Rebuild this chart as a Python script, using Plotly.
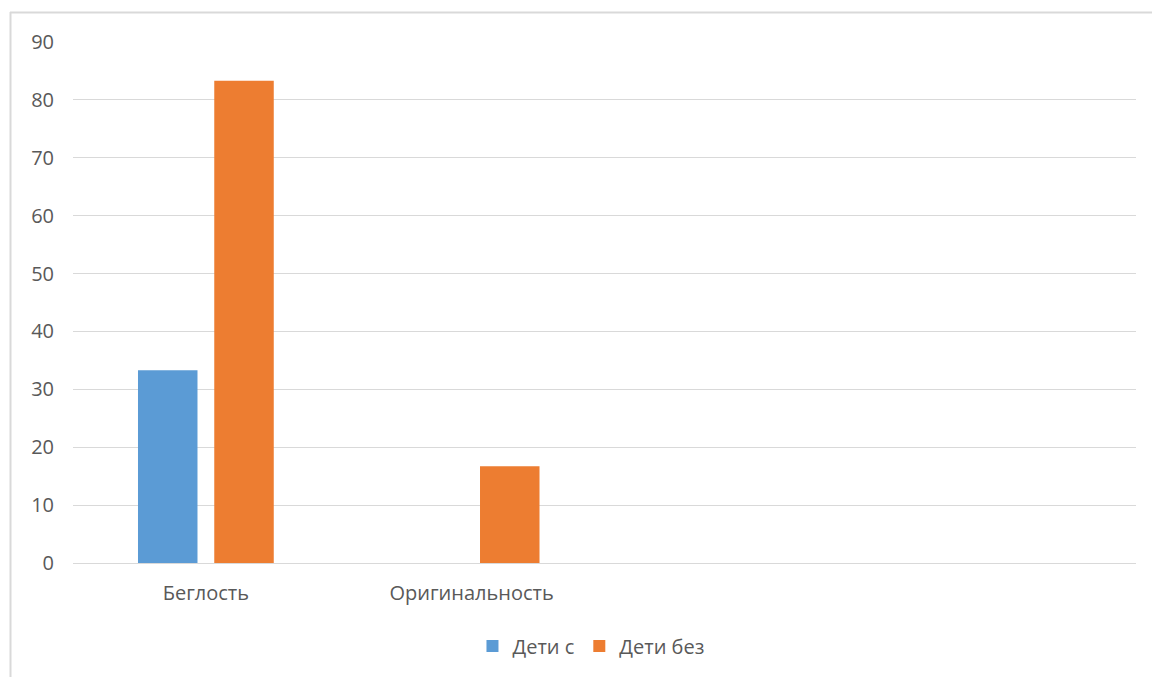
import plotly.graph_objects as go

categories = ["Беглость", "Оригинальность", " ", "  "]
series_names = ["Дети с", "Дети без"]
values_with = [33.3, None, None, None]
values_without = [83.3, 16.7, None, None]
colors = ["#5B9BD5", "#ED7D31"]
y_ticks = [0, 10, 20, 30, 40, 50, 60, 70, 80, 90]

fig = go.Figure()
for name, vals, c in zip(series_names, [values_with, values_without], colors):
    fig.add_trace(go.Bar(x=categories, y=vals, name=name, marker_color=c,
                         marker_line_width=0))

W, H = 1152, 677
L, R, T, B = 73, 16, 42, 114
pw, ph = W - L - R, H - T - B

def px_to_paper_x(px):
    return (px - L) / pw

def px_to_paper_y(py):
    return (H - B - py) / ph

border = dict(color="#d9d9d9", width=2)
fig.add_shape(type="line", xref="paper", yref="paper",
              x0=px_to_paper_x(10), x1=px_to_paper_x(1160),
              y0=px_to_paper_y(12.5), y1=px_to_paper_y(12.5), line=border)
fig.add_shape(type="line", xref="paper", yref="paper",
              x0=px_to_paper_x(10.5), x1=px_to_paper_x(10.5),
              y0=px_to_paper_y(12), y1=px_to_paper_y(690), line=border)

fig.update_layout(
    width=W, height=H,
    margin=dict(l=L, r=R, t=T, b=B),
    paper_bgcolor="white", plot_bgcolor="white",
    barmode="group", bargap=0.426, bargroupgap=0.22,
    font=dict(family="Open Sans, Noto Sans, sans-serif", size=20, color="#595959"),
    showlegend=True,
    legend=dict(orientation="h", xref="container", yref="container",
                x=0.513, xanchor="center", y=(H - 646) / H, yanchor="middle",
                font=dict(size=20, color="#595959"), itemwidth=30,
                traceorder="normal"),
    xaxis=dict(showgrid=False, showline=False, ticks="", ticklabelstandoff=16,
               fixedrange=True),
    yaxis=dict(range=[0, 90], tickvals=y_ticks, showgrid=True, gridcolor="#d9d9d9",
               gridwidth=1, zeroline=True, zerolinecolor="#d9d9d9", zerolinewidth=1,
               showline=False, ticks="", ticklabelstandoff=18),
)

fig.write_html("out.html")
